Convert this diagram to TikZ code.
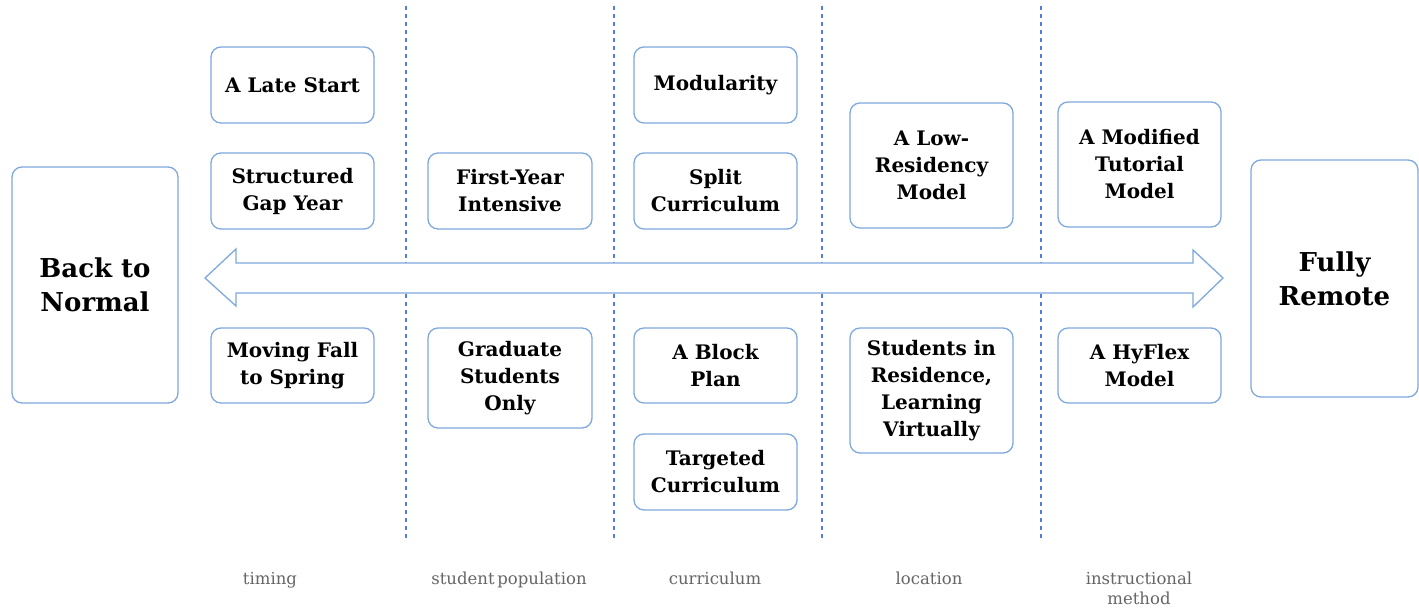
\documentclass[tikz,border=0pt]{standalone}
\usepackage{fontspec}
\setmainfont{DejaVu Serif}
\newfontfamily\labelfont{DejaVu Serif}
\begin{document}
\begin{tikzpicture}[x=1pt,y=-1pt,
  boxline/.style={draw=boxblue, line width=1.3pt, rounded corners=10pt},
  option/.style={boxline, minimum width=163pt, inner sep=0pt, align=center,
    font=\bfseries\fontsize{20}{27}\selectfont, text=black},
  endpoint/.style={boxline, minimum width=166pt, minimum height=236pt, inner sep=0pt,
    align=center, font=\bfseries\fontsize{26}{34}\selectfont, text=black},
  divider/.style={draw=divblue, line width=1.2pt, dash pattern=on 4pt off 4pt},
  axislabel/.style={font=\labelfont\fontsize{16.5}{20}\selectfont, text=black!60, align=center}
]
\definecolor{boxblue}{HTML}{7EA8DE}
\definecolor{divblue}{HTML}{4F7FDB}
\useasboundingbox (0,0) rectangle (1419,609);
\fill[white] (0,0) rectangle (1419,609);

% column dividers
\coordinate (d1t) at (406,6);   \coordinate (d1b) at (406,540);
\coordinate (d2t) at (614,6);   \coordinate (d2b) at (614,540);
\coordinate (d3t) at (822,6);   \coordinate (d3b) at (822,540);
\coordinate (d4t) at (1041,6);  \coordinate (d4b) at (1041,540);
\draw[divider] (d1t) -- (d1b);
\draw[divider] (d2t) -- (d2b);
\draw[divider] (d3t) -- (d3b);
\draw[divider] (d4t) -- (d4b);

% the two ends of the spectrum
\node[endpoint] (normal) at (95,285) {Back to\\Normal};
\node[endpoint, minimum width=167pt, minimum height=237pt] (remote) at (1334.5,278.5) {Fully\\Remote};

% double-headed arrow between the ends
\fill[white, draw=boxblue, line width=1.3pt, line join=miter]
  (205,278) -- (236,249) -- (236,263) -- (1193,263) -- (1193,250) -- (1223,278)
  -- (1193,307) -- (1193,293) -- (236,293) -- (236,306) -- cycle;

% timing
\node[option, minimum height=76pt] (late) at (292.5,85) {A Late Start};
\node[option, minimum height=76pt] (gap) at (292.5,191) {Structured\\Gap Year};
\node[option, minimum height=75pt] (fall) at (292.5,365.5) {Moving Fall\\to Spring};

% student population
\node[option, minimum width=164pt, minimum height=76pt] (first) at (510,191) {First-Year\\Intensive};
\node[option, minimum width=164pt, minimum height=100pt] (grad) at (510,378) {Graduate\\Students\\Only};

% curriculum
\node[option, minimum height=76pt] (modular) at (715.5,85) {Modularity};
\node[option, minimum height=76pt] (split) at (715.5,191) {Split\\Curriculum};
\node[option, minimum height=75pt] (block) at (715.5,365.5) {A Block\\Plan};
\node[option, minimum height=76pt] (target) at (715.5,472) {Targeted\\Curriculum};

% location
\node[option, minimum height=125pt] (lowres) at (931.5,165.5) {A Low-\\Residency\\Model};
\node[option, minimum height=125pt] (resid) at (931.5,390.5) {Students in\\Residence,\\Learning\\Virtually};

% instructional method
\node[option, minimum height=125pt] (tutor) at (1139.5,164.5) {A Modified\\Tutorial\\Model};
\node[option, minimum height=75pt] (hyflex) at (1139.5,365.5) {A HyFlex\\Model};

% dimension labels (base anchor sits on the last line)
\node[axislabel, anchor=base] (ltiming) at (270,584) {timing};
\node[axislabel, anchor=base] (lpop) at (509,584) {student\,population};
\node[axislabel, anchor=base] (lcurr) at (715,584) {curriculum};
\node[axislabel, anchor=base] (lloc) at (929,584) {location};
\node[axislabel, anchor=base] (lmeth) at (1139,604) {instructional\\method};
\end{tikzpicture}
\end{document}
